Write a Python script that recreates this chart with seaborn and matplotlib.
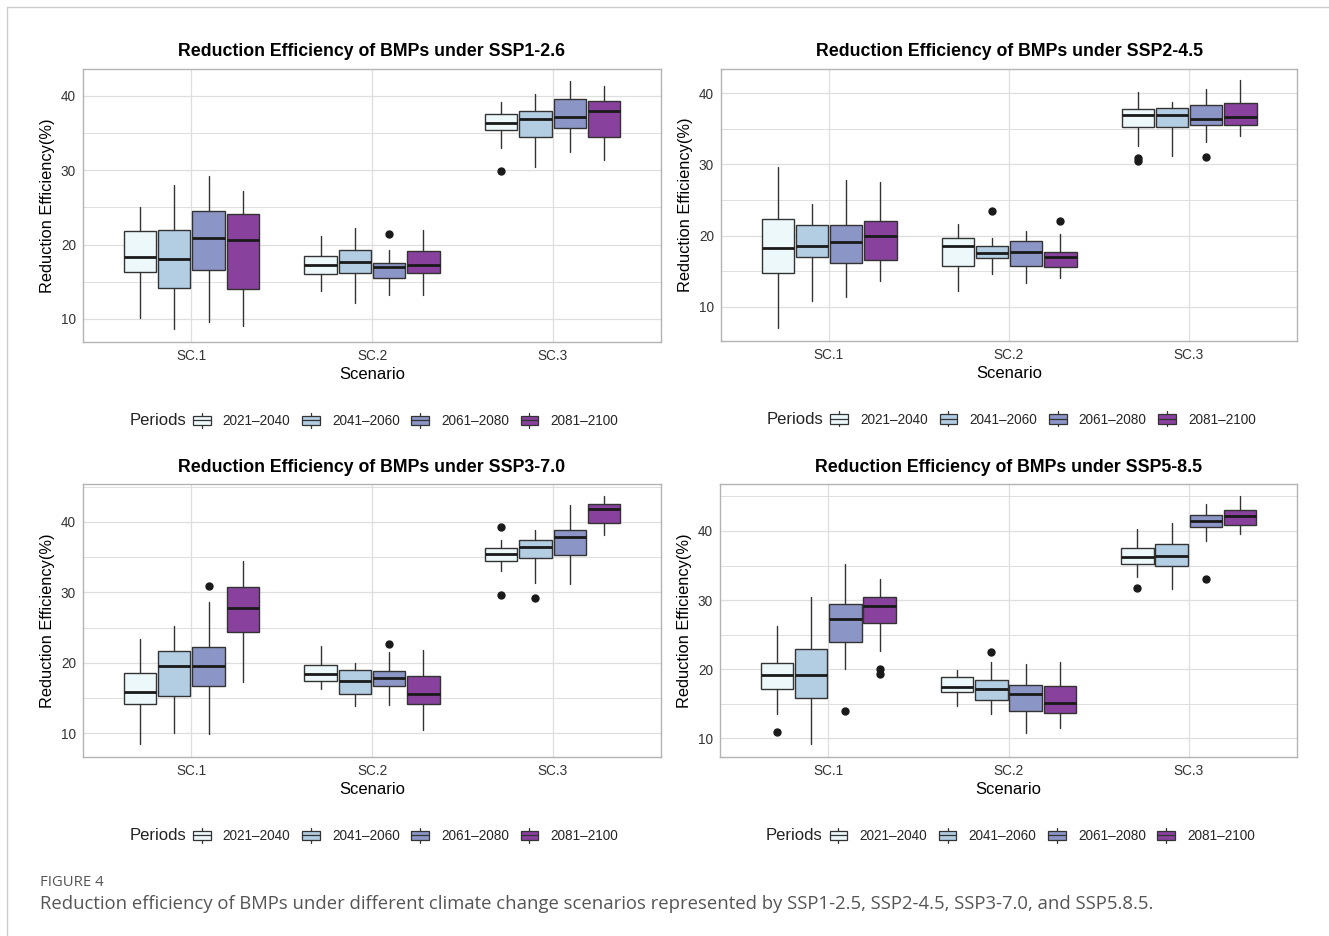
# Reduction efficiency of BMPs under four SSP climate scenarios
# boxplots drawn from box statistics

import matplotlib
matplotlib.use('Agg')
import matplotlib.pyplot as plt
from matplotlib.legend_handler import HandlerBase
from matplotlib.patches import Rectangle, Patch
from matplotlib.lines import Line2D
import seaborn as sns

scenarios = ['SC.1', 'SC.2', 'SC.3']
periods = ['2021–2040', '2041–2060', '2061–2080', '2081–2100']
titles = ['Reduction Efficiency of BMPs under SSP1-2.6',
          'Reduction Efficiency of BMPs under SSP2-4.5',
          'Reduction Efficiency of BMPs under SSP3-7.0',
          'Reduction Efficiency of BMPs under SSP5-8.5']

# (lower whisker, q1, median, q3, upper whisker), one row per scenario, one tuple per period
ssp126 = [
    [(10.1, 16.3, 18.3, 21.8, 25.1), (8.7, 14.2, 18.0, 21.9, 28.0), (9.6, 16.6, 20.9, 24.5, 29.2), (9.1, 14.0, 20.6, 24.1, 27.2)],
    [(13.7, 16.0, 17.3, 18.5, 21.1), (12.2, 16.2, 17.7, 19.3, 22.2), (13.2, 15.5, 17.0, 17.5, 19.3), (13.2, 16.2, 17.3, 19.1, 21.9)],
    [(33.0, 35.4, 36.3, 37.5, 39.2), (30.4, 34.5, 36.9, 37.9, 40.3), (32.4, 35.7, 37.1, 39.5, 42.0), (31.4, 34.5, 38.0, 39.3, 41.3)],
]
ssp245 = [
    [(7.0, 14.7, 18.3, 22.3, 29.6), (10.8, 17.0, 18.6, 21.5, 24.5), (11.4, 16.1, 19.1, 21.5, 27.8), (13.6, 16.6, 19.9, 22.1, 27.6)],
    [(12.2, 15.8, 18.5, 19.6, 21.6), (14.6, 16.8, 17.5, 18.6, 19.6), (13.4, 15.7, 17.7, 19.2, 20.6), (14.1, 15.6, 17.0, 17.7, 20.2)],
    [(32.6, 35.2, 37.0, 37.8, 40.1), (31.2, 35.2, 37.0, 37.9, 38.8), (33.1, 35.5, 36.4, 38.3, 40.6), (34.0, 35.5, 36.7, 38.6, 41.8)],
]
ssp370 = [
    [(8.5, 14.1, 15.9, 18.6, 23.4), (10.0, 15.3, 19.6, 21.7, 25.2), (9.8, 16.7, 19.5, 22.2, 28.7), (17.3, 24.4, 27.8, 30.7, 34.4)],
    [(16.3, 17.4, 18.4, 19.7, 22.4), (13.9, 15.6, 17.4, 18.9, 20.0), (14.0, 16.7, 17.8, 18.8, 21.5), (10.4, 14.2, 15.6, 18.1, 21.8)],
    [(33.1, 34.5, 35.5, 36.3, 37.5), (31.3, 34.9, 36.5, 37.5, 38.8), (31.2, 35.3, 37.8, 38.9, 42.4), (38.2, 39.8, 41.9, 42.5, 43.7)],
]
ssp585 = [
    [(13.5, 17.1, 19.1, 20.9, 26.3), (9.2, 15.8, 19.1, 22.9, 30.5), (20.1, 24.0, 27.3, 29.4, 35.2), (22.7, 26.7, 29.1, 30.4, 33.0)],
    [(14.7, 16.7, 17.4, 18.9, 19.9), (13.5, 15.6, 17.2, 18.4, 21.1), (10.8, 13.9, 16.4, 17.7, 20.7), (11.5, 13.7, 15.1, 17.6, 21.0)],
    [(33.4, 35.2, 36.3, 37.5, 40.3), (31.6, 34.9, 36.4, 38.1, 41.1), (38.6, 40.6, 41.4, 42.3, 43.9), (39.5, 40.8, 42.2, 43.0, 45.0)],
]

# outliers keyed by (scenario index, period index)
ssp126_out = {(1, 2): [21.4], (2, 0): [29.9]}
ssp245_out = {(1, 1): [23.5], (1, 3): [22.1], (2, 0): [30.9, 30.5], (2, 2): [31.1]}
ssp370_out = {(0, 2): [30.9], (1, 2): [22.7], (2, 0): [39.3, 29.6], (2, 1): [29.2]}
ssp585_out = {(0, 0): [10.9], (0, 2): [13.9], (0, 3): [20.1, 19.3], (1, 1): [22.5],
              (2, 0): [31.7], (2, 2): [33.1]}

ylims = [(6.9, 43.6), (5.2, 43.4), (6.6, 45.4), (7.3, 46.8)]

sns.set_theme(style='whitegrid')
plt.rcParams['font.family'] = ['Liberation Sans', 'DejaVu Sans']
colors = sns.color_palette(['#EDF8FB', '#B3CDE3', '#8C96C6', '#88419D'])

dark = '#333333'
grid_c = '#dedede'


class BoxKey(HandlerBase):
    # legend key drawn like a small boxplot
    def create_artists(self, legend, orig_handle, xdescent, ydescent, width, height, fontsize, trans):
        x0, y0 = -xdescent, -ydescent
        box = Rectangle((x0, y0 + 0.12 * height), width, 0.76 * height,
                        facecolor=orig_handle.get_facecolor(), edgecolor=dark, lw=0.9, transform=trans)
        cx = x0 + width / 2
        med = Line2D([x0, x0 + width], [y0 + 0.5 * height] * 2, color=dark, lw=0.9, transform=trans)
        w1 = Line2D([cx, cx], [y0 - 0.12 * height, y0 + 0.12 * height], color=dark, lw=0.9, transform=trans)
        w2 = Line2D([cx, cx], [y0 + 0.88 * height, y0 + 1.12 * height], color=dark, lw=0.9, transform=trans)
        return [box, med, w1, w2]


fig = plt.figure(figsize=(13.29, 9.36), dpi=100)
panels = [(ssp126, ssp126_out), (ssp245, ssp245_out), (ssp370, ssp370_out), (ssp585, ssp585_out)]
rects = [[83, 69, 661, 342], [721, 69, 1297, 341], [83, 484, 661, 757], [720, 484, 1297, 757]]
offsets = [-0.285, -0.095, 0.095, 0.285]

for k, ((stats_rows, outs), r) in enumerate(zip(panels, rects)):
    W, H = 1329, 936
    ax = fig.add_axes([r[0] / W, 1 - r[3] / H, (r[2] - r[0]) / W, (r[3] - r[1]) / H])
    for i, row in enumerate(stats_rows):
        for j, s in enumerate(row):
            st = dict(whislo=s[0], q1=s[1], med=s[2], q3=s[3], whishi=s[4],
                      fliers=outs.get((i, j), []))
            ax.bxp([st], positions=[i + offsets[j]], widths=0.18, patch_artist=True,
                   showcaps=False, manage_ticks=False,
                   boxprops=dict(facecolor=colors[j], edgecolor=dark, linewidth=1.0),
                   medianprops=dict(color='#1a1a1a', linewidth=2.0),
                   whiskerprops=dict(color=dark, linewidth=1.0),
                   flierprops=dict(marker='o', markerfacecolor='#1a1a1a', markeredgecolor='#1a1a1a',
                                   markersize=5))
    ax.set_xticks(range(3))
    ax.set_xticklabels(scenarios)
    ax.set_yticks([10, 20, 30, 40])
    lo, hi = ylims[k]
    ax.set_yticks([m for m in [15, 25, 35, 45] if lo < m < hi], minor=True)
    ax.set_xlim(-0.6, 2.6)
    ax.set_ylim(lo, hi)
    ax.grid(True, which='major', color=grid_c, linewidth=0.9)
    ax.grid(True, which='minor', axis='y', color=grid_c, linewidth=0.7)
    ax.set_axisbelow(True)
    for sp in ax.spines.values():
        sp.set_color('#b3b3b3')
        sp.set_linewidth(1.0)
    ax.tick_params(axis='both', which='major', length=3, width=0.8, color='#b3b3b3',
                   labelsize=9.8, labelcolor='#333333', pad=2)
    ax.tick_params(axis='both', which='minor', length=0)
    ax.set_title(titles[k], fontsize=12.8, fontweight='bold', color='black', pad=9)
    ax.set_xlabel('Scenario', fontsize=12, color='black', labelpad=3)
    ax.set_ylabel('Reduction Efficiency(%)', fontsize=11.8, color='black', labelpad=4)

    handles = [Patch(facecolor=c) for c in colors]
    leg = ax.legend(handles, periods, loc='center left', bbox_to_anchor=(0.19, -0.289),
                    ncol=4, frameon=False, fontsize=9.8, handler_map={Patch: BoxKey()},
                    handlelength=1.3, handleheight=1.0, handletextpad=0.9, columnspacing=0.85,
                    borderpad=0, borderaxespad=0)
    ax.text(0.178, -0.289, 'Periods', transform=ax.transAxes, ha='right', va='center',
            fontsize=12, color='#222222')

# caption
fig.text(40 / 1329, 1 - 883 / 936, 'FIGURE 4', fontsize=10.7, color='#555555',
         family=['Open Sans', 'DejaVu Sans'], va='center', ha='left')
fig.text(40 / 1329, 1 - 904 / 936,
         'Reduction efficiency of BMPs under different climate change scenarios represented by '
         'SSP1-2.5, SSP2-4.5, SSP3-7.0, and SSP5.8.5.',
         fontsize=13.3, color='#555555', family=['Open Sans', 'DejaVu Sans'], va='center', ha='left')

# page frame
fig.add_artist(Line2D([7 / 1329, 1], [1 - 7 / 936, 1 - 7 / 936], color='#cccccc', lw=1))
fig.add_artist(Line2D([7 / 1329, 7 / 1329], [0, 1 - 7 / 936], color='#cccccc', lw=1))

fig.savefig('out.png', dpi=100, facecolor='white')
